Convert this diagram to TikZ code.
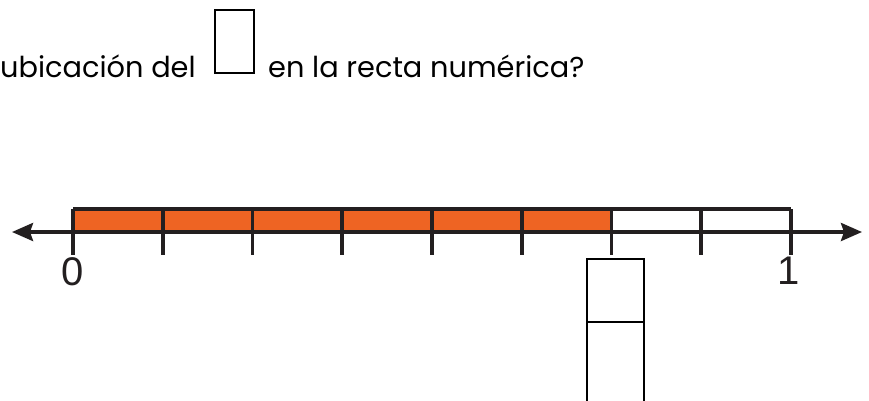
\documentclass[tikz,border=0pt]{standalone}
\usepackage{fontspec}
\setmainfont{Poppins}
\newfontfamily\digitfont{Liberation Sans}
\usetikzlibrary{arrows.meta,calc}
\definecolor{barorange}{RGB}{238,100,35}
\definecolor{linegray}{RGB}{35,31,32}
\begin{document}
\begin{tikzpicture}[x=1pt,y=-1pt]
    \tikzstyle{every node}+=[inner sep=0pt]
    \tikzstyle{barline}=[draw=linegray, line width=3.6pt]
    \tikzstyle{answerbox}=[draw=black, line width=2pt, outer sep=0pt, minimum width=57pt]
    \useasboundingbox (0,0) rectangle (869,400);
    \node [anchor=base west] (qleft) at (0,77) {\fontsize{28.8}{32}\selectfont ubicación del};
    \node [draw=black, line width=1.4pt, minimum width=39pt, minimum height=63pt] (qbox) at (234.5,41.5) {};
    \node [anchor=base west] (qright) at (268,77) {\fontsize{28.8}{32}\selectfont en la recta numérica?};
    \foreach \i in {0,...,8}
        \coordinate (t\i) at (73+\i*89.75,209);
    \coordinate (tailL) at (12,232);
    \coordinate (tailR) at (862,232);
    \fill [barorange] (t0) rectangle ($(t6)+(0,23)$);
    \draw [barline, {Stealth[length=21pt,width=18pt,inset=3pt]}-{Stealth[length=21pt,width=18pt,inset=3pt]}] (tailL) -- (tailR);
    \draw [barline] (t0) -- (t8);
    \foreach \i in {0,...,8}
        \draw [barline] (t\i) -- ++(0,46);
    \node [font=\digitfont\fontsize{40}{40}\selectfont, text=linegray, anchor=north] (zero) at (73,257) {0};
    \node [font=\digitfont\fontsize{40}{40}\selectfont, text=linegray, anchor=north] (one) at (789,257) {1};
    \node [answerbox, minimum height=63pt] (ansup) at (615.5,290.5) {};
    \node [answerbox, minimum height=90pt, anchor=north] (ansdown) at (ansup.south) {};
\end{tikzpicture}
\end{document}
